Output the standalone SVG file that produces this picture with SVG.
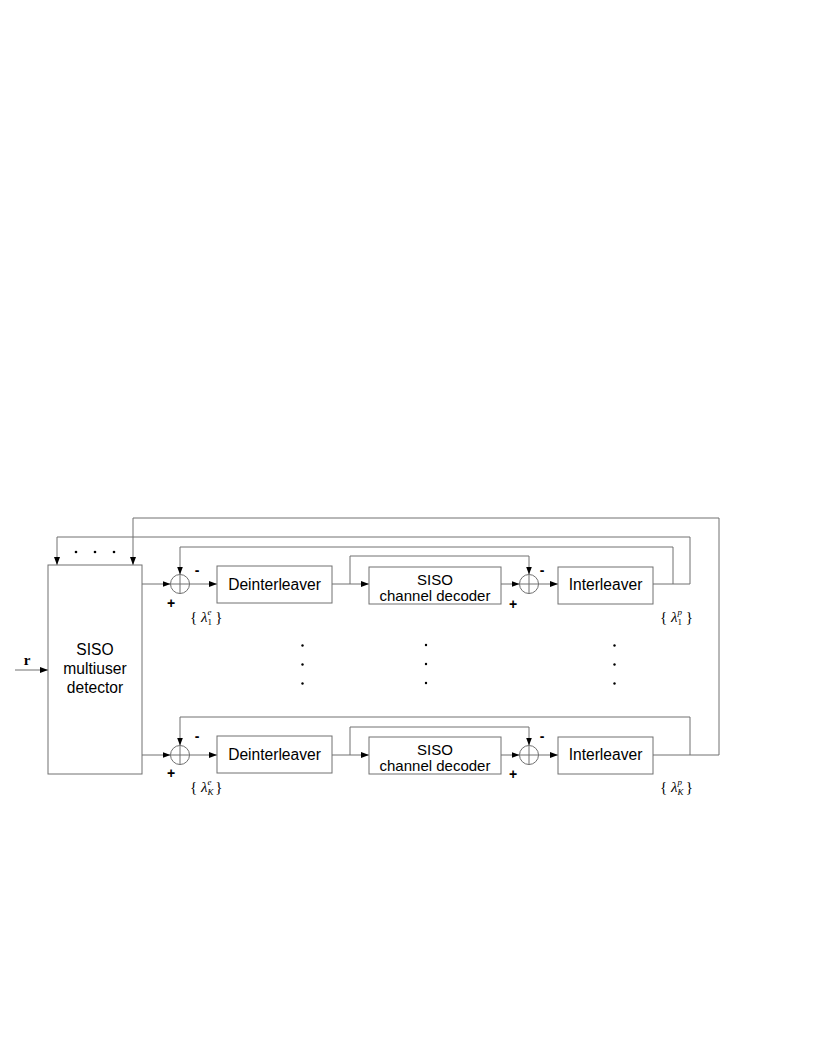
<svg xmlns="http://www.w3.org/2000/svg" width="817" height="1058" viewBox="0 0 817 1058">
<style>
.box{fill:#fff;stroke:#707070;stroke-width:1}
.ln{fill:none;stroke:#707070;stroke-width:1}
.t{font-family:"Liberation Sans",Arial,sans-serif;font-size:15.6px;fill:#000;text-anchor:middle}
.t2{font-family:"Liberation Sans",Arial,sans-serif;font-size:15px;fill:#000;text-anchor:middle}
.s{font-family:"Liberation Sans",Arial,sans-serif;font-size:14px;font-weight:bold;fill:#000;text-anchor:middle}
.lam{font-family:"Liberation Serif","Times New Roman",serif;font-size:15px;fill:#000}
.dot{fill:#000}
</style>
<defs>
<marker id="ah" markerWidth="8" markerHeight="6" refX="8" refY="3" orient="auto" markerUnits="userSpaceOnUse">
<path d="M0,0 L8,3 L0,6 Z" fill="#000"/>
</marker>
</defs>
<rect width="817" height="1058" fill="#fff"/>

<g id="connectors">
<line class="ln" x1="15" y1="670" x2="48" y2="670" marker-end="url(#ah)"/>
<!-- row 1 -->
<line class="ln" x1="142" y1="584" x2="170.5" y2="584" marker-end="url(#ah)"/>
<line class="ln" x1="189.5" y1="584" x2="217" y2="584" marker-end="url(#ah)"/>
<line class="ln" x1="332" y1="584" x2="369" y2="584" marker-end="url(#ah)"/>
<polyline class="ln" points="350,584 350,556 529,556 529,574.5" marker-end="url(#ah)"/>
<line class="ln" x1="501" y1="584" x2="519.5" y2="584" marker-end="url(#ah)"/>
<line class="ln" x1="538.5" y1="584" x2="558" y2="584" marker-end="url(#ah)"/>
<polyline class="ln" points="653,584 690,584 690,537 57,537 57,565" marker-end="url(#ah)"/>
<polyline class="ln" points="673,584 673,547 180,547 180,574.5" marker-end="url(#ah)"/>
<!-- row K -->
<line class="ln" x1="142" y1="755" x2="170.5" y2="755" marker-end="url(#ah)"/>
<line class="ln" x1="189.5" y1="755" x2="217" y2="755" marker-end="url(#ah)"/>
<line class="ln" x1="332" y1="755" x2="369" y2="755" marker-end="url(#ah)"/>
<polyline class="ln" points="350,755 350,727 529,727 529,745.5" marker-end="url(#ah)"/>
<line class="ln" x1="501" y1="755" x2="519.5" y2="755" marker-end="url(#ah)"/>
<line class="ln" x1="538.5" y1="755" x2="558" y2="755" marker-end="url(#ah)"/>
<polyline class="ln" points="653,755 719,755 719,518 133,518 133,565" marker-end="url(#ah)"/>
<polyline class="ln" points="690,755 690,717 180,717 180,745.5" marker-end="url(#ah)"/>
</g>

<g id="input-r">
<text x="27" y="665" font-family="Liberation Serif,'Times New Roman',serif" font-size="15" font-weight="bold" text-anchor="middle">r</text>
</g>

<g id="mud">
<rect class="box" x="48" y="565" width="94" height="209"/>
<text class="t" x="95" y="655">SISO</text>
<text class="t" x="95" y="674">multiuser</text>
<text class="t" x="95" y="693">detector</text>
</g>

<g id="mud-dots">
<circle class="dot" cx="76" cy="552" r="1.3"/>
<circle class="dot" cx="95" cy="552" r="1.3"/>
<circle class="dot" cx="114" cy="552" r="1.3"/>
</g>

<!-- Row 1 -->
<g id="sum1a">
<circle class="ln" cx="180" cy="584" r="9.5"/>
<line class="ln" x1="170.5" y1="584" x2="189.5" y2="584"/>
<line class="ln" x1="180" y1="574.5" x2="180" y2="593.5"/>
<text class="s" x="197" y="575">-</text>
<text class="s" x="171" y="608">+</text>
</g>
<g id="deint1">
<rect class="box" x="217" y="566" width="115" height="37"/>
<text class="t" x="274.5" y="590">Deinterleaver</text>
</g>
<g id="dec1">
<rect class="box" x="369" y="567" width="132" height="37"/>
<text class="t2" x="435" y="584.5">SISO</text>
<text class="t2" x="435" y="600.5">channel decoder</text>
</g>
<g id="sum1b">
<circle class="ln" cx="529" cy="584" r="9.5"/>
<line class="ln" x1="519.5" y1="584" x2="538.5" y2="584"/>
<line class="ln" x1="529" y1="574.5" x2="529" y2="593.5"/>
<text class="s" x="542" y="575">-</text>
<text class="s" x="513" y="609">+</text>
</g>
<g id="int1">
<rect class="box" x="558" y="567" width="95" height="37"/>
<text class="t" x="605.5" y="590">Interleaver</text>
</g>
<g id="lab1e"><text class="lam" x="190" y="622">{ <tspan font-style="italic">λ</tspan><tspan font-size="9" dy="3">1</tspan><tspan font-size="9" font-style="italic" dx="-4.5" dy="-10">e</tspan><tspan dy="7"> }</tspan></text></g>
<g id="lab1p"><text class="lam" x="660" y="622">{ <tspan font-style="italic">λ</tspan><tspan font-size="9" dy="3">1</tspan><tspan font-size="9" font-style="italic" dx="-4.5" dy="-10">p</tspan><tspan dy="7"> }</tspan></text></g>

<!-- Row K -->
<g id="sumKa">
<circle class="ln" cx="180" cy="755" r="9.5"/>
<line class="ln" x1="170.5" y1="755" x2="189.5" y2="755"/>
<line class="ln" x1="180" y1="745.5" x2="180" y2="764.5"/>
<text class="s" x="197" y="741">-</text>
<text class="s" x="171" y="778">+</text>
</g>
<g id="deintK">
<rect class="box" x="217" y="736" width="115" height="37"/>
<text class="t" x="274.5" y="760">Deinterleaver</text>
</g>
<g id="decK">
<rect class="box" x="369" y="737" width="132" height="37"/>
<text class="t2" x="435" y="754.5">SISO</text>
<text class="t2" x="435" y="770.5">channel decoder</text>
</g>
<g id="sumKb">
<circle class="ln" cx="529" cy="755" r="9.5"/>
<line class="ln" x1="519.5" y1="755" x2="538.5" y2="755"/>
<line class="ln" x1="529" y1="745.5" x2="529" y2="764.5"/>
<text class="s" x="542" y="741">-</text>
<text class="s" x="513" y="779">+</text>
</g>
<g id="intK">
<rect class="box" x="558" y="737" width="95" height="37"/>
<text class="t" x="605.5" y="760">Interleaver</text>
</g>
<g id="labKe"><text class="lam" x="190" y="792">{ <tspan font-style="italic">λ</tspan><tspan font-size="9" font-style="italic" dy="3">K</tspan><tspan font-size="9" font-style="italic" dx="-6" dy="-10">e</tspan><tspan dy="7"> }</tspan></text></g>
<g id="labKp"><text class="lam" x="660" y="792">{ <tspan font-style="italic">λ</tspan><tspan font-size="9" font-style="italic" dy="3">K</tspan><tspan font-size="9" font-style="italic" dx="-6" dy="-10">p</tspan><tspan dy="7"> }</tspan></text></g>

<g id="vdots">
<circle class="dot" cx="302.5" cy="645.5" r="1.2"/>
<circle class="dot" cx="302.5" cy="664.5" r="1.2"/>
<circle class="dot" cx="302.5" cy="683.5" r="1.2"/>
<circle class="dot" cx="426" cy="645" r="1.2"/>
<circle class="dot" cx="426" cy="664" r="1.2"/>
<circle class="dot" cx="426" cy="683" r="1.2"/>
<circle class="dot" cx="614.5" cy="645.5" r="1.2"/>
<circle class="dot" cx="614.5" cy="664.5" r="1.2"/>
<circle class="dot" cx="614.5" cy="683.5" r="1.2"/>
</g>
</svg>
